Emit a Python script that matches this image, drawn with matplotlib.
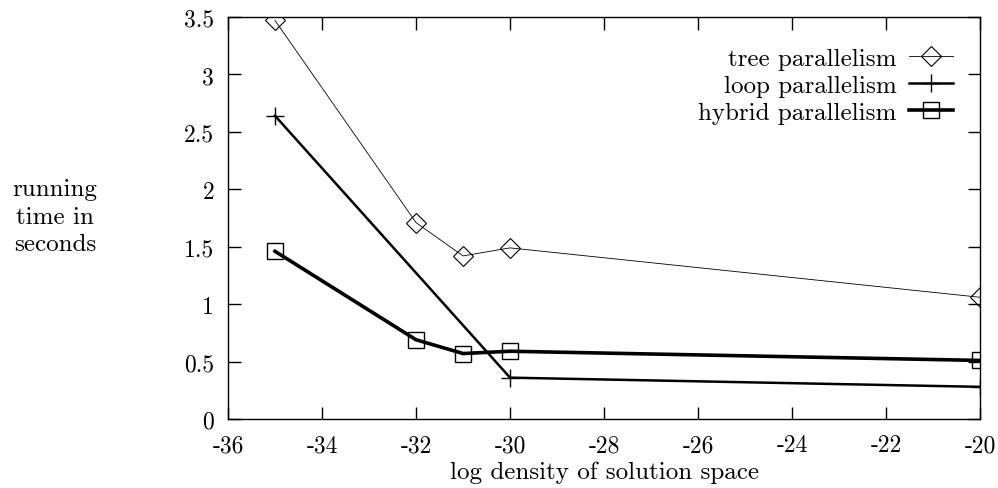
import matplotlib
matplotlib.use("Agg")
import matplotlib.pyplot as plt

plt.rcParams["font.family"] = ["cmr10", "DejaVu Serif"]
plt.rcParams["axes.unicode_minus"] = False
plt.rcParams["mathtext.fontset"] = "cm"

density = [-35, -32, -31, -30, -20]
tree_time = [3.47, 1.71, 1.42, 1.49, 1.06]
loop_density = [-35, -30, -20]
loop_time = [2.64, 0.36, 0.28]
hybrid_time = [1.46, 0.69, 0.57, 0.59, 0.51]

x_ticks = [-36, -34, -32, -30, -28, -26, -24, -22, -20]
y_ticks = [0, 0.5, 1, 1.5, 2, 2.5, 3, 3.5]
x_labels = ["-36", "-34", "-32", "-30", "-28", "-26", "-24", "-22", "-20"]
y_labels = ["0", "0.5", "1", "1.5", "2", "2.5", "3", "3.5"]

fs = 17

fig = plt.figure(figsize=(9.98, 4.89), dpi=100)
ax = fig.add_axes([0.2285, 0.1411, 0.7535, 0.822])

ax.plot(density, tree_time, color="black", linewidth=0.6, marker="D",
        markersize=10, markerfacecolor="none", markeredgewidth=0.8,
        label="tree parallelism")
ax.plot(loop_density, loop_time, color="black", linewidth=1.8, marker="+",
        markersize=13, markeredgewidth=1.0, label="loop parallelism")
ax.plot(density, hybrid_time, color="black", linewidth=2.6, marker="s",
        markersize=11, markerfacecolor="none", markeredgewidth=1.0,
        label="hybrid parallelism")

ax.set_xlim(-36, -20)
ax.set_ylim(0, 3.5)
ax.set_xticks(x_ticks)
ax.set_xticklabels(x_labels)
ax.set_yticks(y_ticks)
ax.set_yticklabels(y_labels)
ax.tick_params(direction="in", length=9, width=1, top=True, right=True,
               labelsize=fs)
ax.tick_params(axis="x", pad=11)
ax.tick_params(axis="y", pad=10)
for s in ax.spines.values():
    s.set_linewidth(1)

ax.set_xlabel("log density of solution space", fontsize=18, labelpad=3)
fig.text(0.055, 0.555, "running\ntime in\nseconds", fontsize=18,
         ha="center", va="center", linespacing=1.3)

ax.legend(loc="upper right", bbox_to_anchor=(0.964, 0.925), frameon=False,
          markerfirst=False, fontsize=18, handlelength=1.75,
          handletextpad=0.5, labelspacing=0.18, borderaxespad=0, borderpad=0)

fig.savefig("out.png", dpi=100)
